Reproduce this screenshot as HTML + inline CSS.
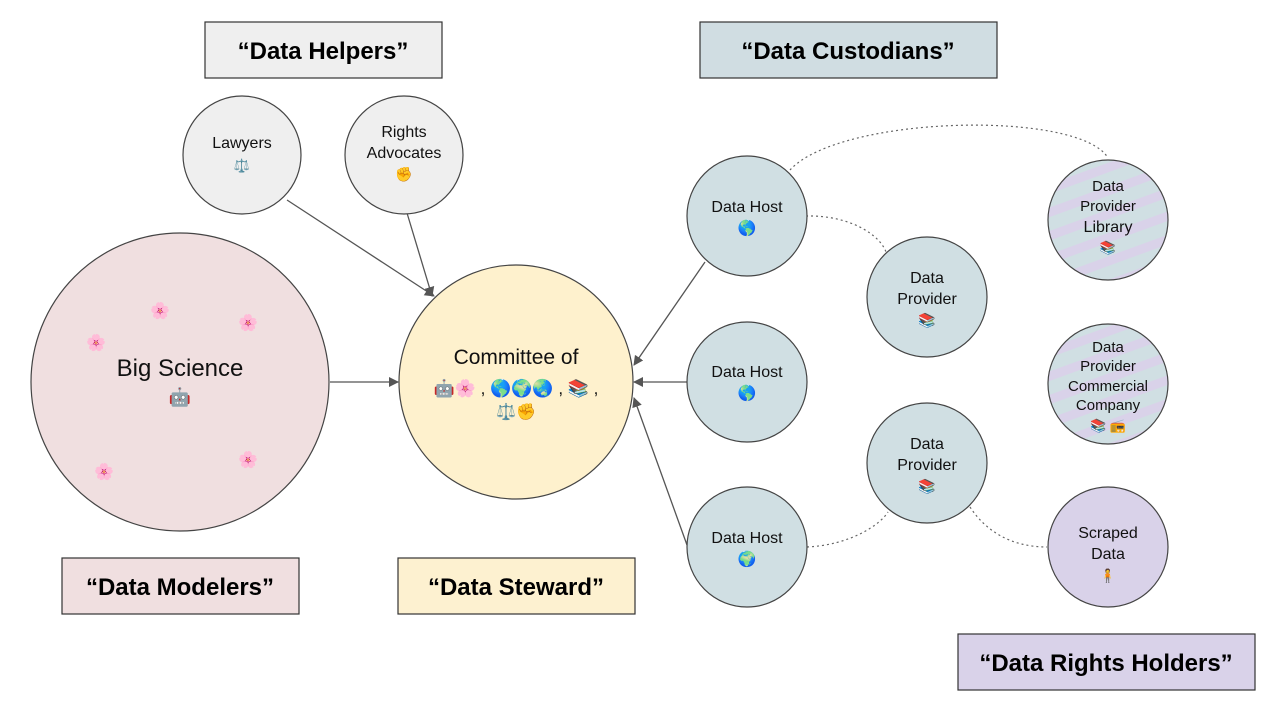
<!DOCTYPE html>
<html><head><meta charset="utf-8"><style>
html,body{margin:0;padding:0;background:#fff;}
svg{display:block;font-family:"Liberation Sans",sans-serif;}
.b{font-weight:bold;font-size:24px;}
</style></head><body>
<svg width="1280" height="714" viewBox="0 0 1280 714" xmlns="http://www.w3.org/2000/svg">
<defs>
<marker id="ah" markerWidth="10" markerHeight="10" refX="9" refY="5" orient="auto" markerUnits="userSpaceOnUse">
<path d="M0,0 L10,5 L0,10 z" fill="#555"/></marker>
<pattern id="st" width="40" height="22" patternUnits="userSpaceOnUse" patternTransform="rotate(-20)">
<rect width="40" height="22" fill="#d0dfe3"/><rect y="4" width="40" height="9" fill="#d9d2e9"/></pattern>
</defs>
<!-- boxes -->
<g stroke="#333" stroke-width="1.2">
<rect x="205" y="22" width="237" height="56" fill="#efefef"/>
<rect x="700" y="22" width="297" height="56" fill="#d0dde2"/>
<rect x="62" y="558" width="237" height="56" fill="#f0dfe0"/>
<rect x="398" y="558" width="237" height="56" fill="#fdf1d0"/>
<rect x="958" y="634" width="297" height="56" fill="#d9d2e9"/>
</g>
<g class="b" text-anchor="middle" fill="#000">
<text x="323" y="59">“Data Helpers”</text>
<text x="848" y="59">“Data Custodians”</text>
<text x="180" y="595">“Data Modelers”</text>
<text x="516" y="595">“Data Steward”</text>
<text x="1106" y="671">“Data Rights Holders”</text>
</g>
<!-- dotted connectors -->
<g fill="none" stroke="#666" stroke-width="1.2" stroke-dasharray="2,3">
<path d="M790,170 C840,115 1080,110 1108,158"/>
<path d="M806,216 C850,215 880,235 886,252"/>
<path d="M807,547 C850,545 880,525 888,512"/>
<path d="M970,507 C985,530 1010,547 1047,547"/>
</g>
<!-- arrows -->
<g stroke="#555" stroke-width="1.3" marker-end="url(#ah)">
<line x1="287" y1="200" x2="434" y2="296"/>
<line x1="407" y1="213" x2="432" y2="296"/>
<line x1="330" y1="382" x2="398" y2="382"/>
<line x1="705" y1="262" x2="634" y2="365"/>
<line x1="687" y1="382" x2="634" y2="382"/>
<line x1="687" y1="545" x2="634" y2="398"/>
</g>
<!-- circles -->
<g stroke="#444" stroke-width="1.2">
<circle cx="242" cy="155" r="59" fill="#efefef"/>
<circle cx="404" cy="155" r="59" fill="#efefef"/>
<circle cx="180" cy="382" r="149" fill="#f0dfe0"/>
<circle cx="516" cy="382" r="117" fill="#fef1cd"/>
<circle cx="747" cy="216" r="60" fill="#d0dfe3"/>
<circle cx="747" cy="382" r="60" fill="#d0dfe3"/>
<circle cx="747" cy="547" r="60" fill="#d0dfe3"/>
<circle cx="927" cy="297" r="60" fill="#d0dfe3"/>
<circle cx="927" cy="463" r="60" fill="#d0dfe3"/>
<circle cx="1108" cy="220" r="60" fill="url(#st)"/>
<circle cx="1108" cy="384" r="60" fill="url(#st)"/>
<circle cx="1108" cy="547" r="60" fill="#d9d2e9"/>
</g>
<g text-anchor="middle" font-size="16" fill="#111">
<text x="242" y="148">Lawyers</text><text x="242" y="170" font-size="13">⚖️</text>
<text x="404" y="137">Rights</text><text x="404" y="158">Advocates</text><text x="404" y="179" font-size="14">✊</text>
<text x="180" y="376" font-size="24">Big Science</text><text x="180" y="403" font-size="18">🤖</text>
<g font-size="16"><text x="160" y="316">🌸</text><text x="248" y="328">🌸</text><text x="96" y="348">🌸</text><text x="104" y="477">🌸</text><text x="248" y="465">🌸</text></g>
<text x="516" y="364" font-size="21">Committee of</text>
<text x="516" y="394" font-size="17">🤖🌸 , 🌎🌍🌏 , 📚 ,</text>
<text x="516" y="417" font-size="16">⚖️✊</text>
<text x="747" y="212">Data Host</text><text x="747" y="233" font-size="15">🌎</text>
<text x="747" y="377">Data Host</text><text x="747" y="398" font-size="15">🌎</text>
<text x="747" y="543">Data Host</text><text x="747" y="564" font-size="15">🌍</text>
<text x="927" y="283">Data</text><text x="927" y="304">Provider</text><text x="927" y="325" font-size="14">📚</text>
<text x="927" y="449">Data</text><text x="927" y="470">Provider</text><text x="927" y="491" font-size="14">📚</text>
<g font-size="15"><text x="1108" y="191">Data</text><text x="1108" y="211">Provider</text><text x="1108" y="232" font-size="16">Library</text><text x="1108" y="252" font-size="13">📚</text></g>
<g font-size="15"><text x="1108" y="352">Data</text><text x="1108" y="371">Provider</text><text x="1108" y="391">Commercial</text><text x="1108" y="410">Company</text><text x="1108" y="430" font-size="13">📚 📻</text></g>
<text x="1108" y="538">Scraped</text><text x="1108" y="559">Data</text><text x="1108" y="580" font-size="13">🧍</text>
</g>
</svg>
</body></html>
